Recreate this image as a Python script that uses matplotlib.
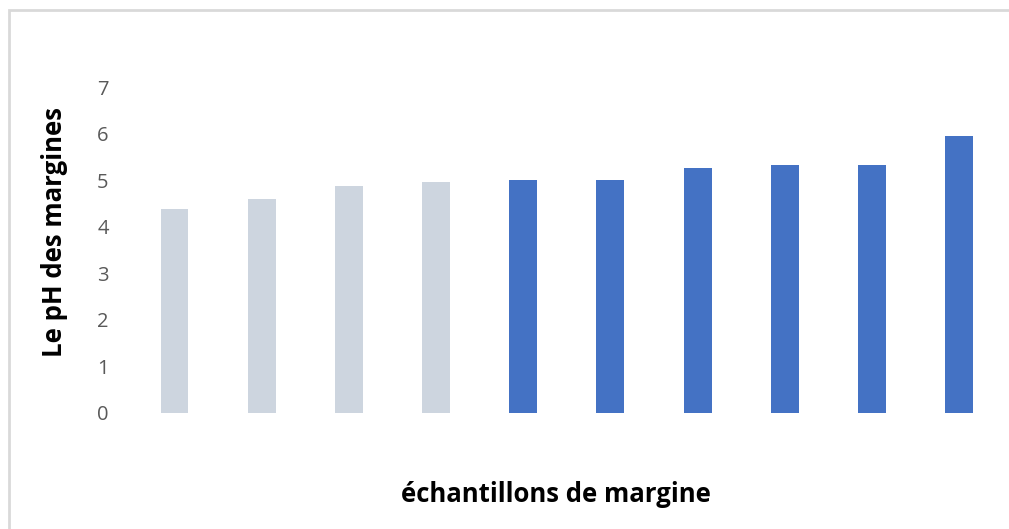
import matplotlib
matplotlib.use("Agg")
import matplotlib.pyplot as plt
from matplotlib.patches import Rectangle

plt.rcParams["font.family"] = ["Open Sans", "DejaVu Sans"]

# pH values of the 10 margine samples
samples = ["1", "2", "3", "4", "5", "6", "7", "8", "9", "10"]
ph_values = [4.37, 4.59, 4.87, 4.95, 5.01, 5.01, 5.26, 5.32, 5.32, 5.95]
bar_colors = ["#CDD5DF"] * 4 + ["#4472C4"] * 6
y_ticks = [0, 1, 2, 3, 4, 5, 6, 7]

fig = plt.figure(figsize=(10.09, 5.29), dpi=100)
ax = fig.add_axes([0.1298, 0.2198, 0.8639, 0.6157])

x = range(len(samples))
ax.bar(x, ph_values, width=0.32, color=bar_colors)

ax.set_xlim(-0.5, len(samples) - 0.5)
ax.set_ylim(0, 7)
ax.set_yticks(y_ticks)
ax.set_xticks([])
ax.tick_params(axis="y", length=0, pad=16, labelsize=14.5, labelcolor="#595959")
for s in ax.spines.values():
    s.set_visible(False)

fig.text(556 / 1009, 1 - 494 / 529, "échantillons de margine", ha="center", va="center",
         fontsize=18.5, fontweight="bold")
fig.text(54 / 1009, 1 - 232 / 529, "Le pH des margines", ha="center", va="center",
         rotation=90, fontsize=18.5, fontweight="bold")

# light chart-area border (cut at the right and bottom)
fig.patches.append(Rectangle((9 / 1009, -0.1), 1.2, 1 - 10 / 529 + 0.1,
                             transform=fig.transFigure, fill=False,
                             edgecolor="#D9D9D9", linewidth=2))

fig.savefig("out.png", dpi=100)
